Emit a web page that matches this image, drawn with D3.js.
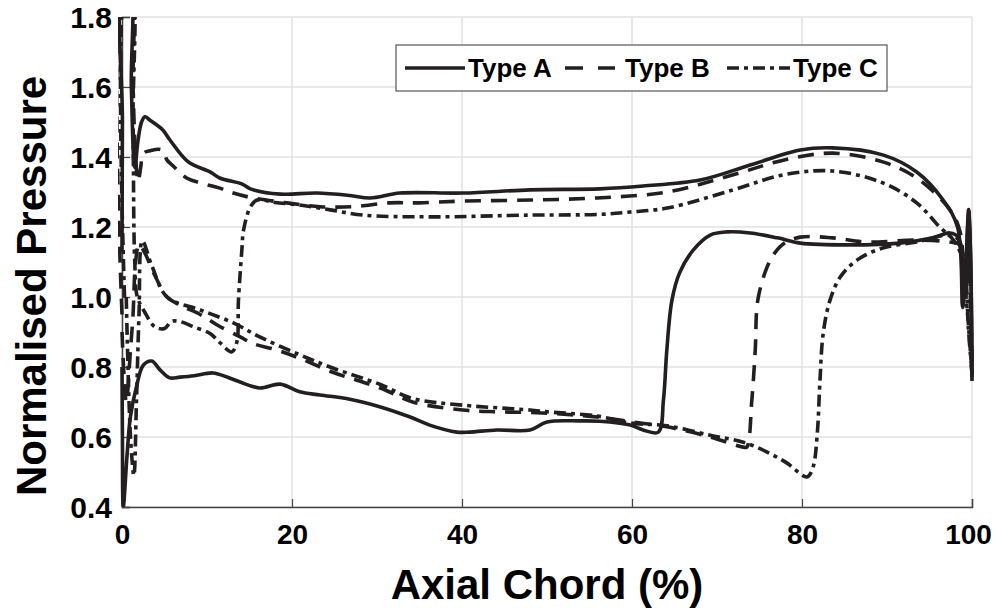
<!DOCTYPE html>
<html>
<head>
<meta charset="utf-8">
<script src="https://cdn.jsdelivr.net/npm/d3@7"></script>
<style>
  html, body { margin: 0; padding: 0; background: #fff; }
  svg { display: block; font-family: Arial, "Liberation Sans", sans-serif; }
</style>
</head>
<body>
<svg id="chart" width="995" height="608"></svg>
<script>
// ---------- data (x = axial chord %, y = normalised pressure) ----------
const xTicks = [0, 20, 40, 60, 80, 100];
const yTicks = [0.4, 0.6, 0.8, 1.0, 1.2, 1.4, 1.6, 1.8];
const seriesNames = ["Type A", "Type B", "Type C"];

const typeAUpper = [[0,1.13],[0.05,1.5],[0.12,1.9],[0.9,1.9],[1.1,1.6],[1.5,1.37],[1.9,1.45],[2.3,1.5],[2.7,1.515],[3.3,1.505],[4.8,1.477],[5.6,1.45],[7.8,1.386],[10.4,1.357],[11.5,1.34],[14.2,1.322],[15.1,1.309],[18.6,1.294],[22.9,1.297],[26.8,1.29],[29.2,1.283],[32.7,1.297],[40.1,1.297],[48,1.306],[56.2,1.309],[61.3,1.317],[68,1.334],[73.9,1.377],[79.8,1.42],[83.6,1.426],[89.5,1.406],[93.5,1.357],[96.6,1.277],[98.3,1.2],[98.9,0.97],[99.3,1.1],[99.6,1.25],[99.85,1.1],[100,0.76]];
const typeALower = [[0,0.8],[0.05,0.6],[0.15,0.4],[0.6,0.55],[1.0,0.66],[1.7,0.743],[2.5,0.805],[3.5,0.817],[4.5,0.791],[5.6,0.769],[6.8,0.771],[8.5,0.775],[10.7,0.783],[12.5,0.77],[13.9,0.757],[16.2,0.74],[18.6,0.751],[20.9,0.729],[23.3,0.72],[26.8,0.708],[30.4,0.686],[33.9,0.657],[36.2,0.634],[39.4,0.614],[40.9,0.614],[44.1,0.62],[48,0.62],[50,0.643],[53.9,0.646],[56.2,0.645],[59.8,0.634],[61.3,0.62],[63.1,0.614],[63.7,0.706],[64.1,0.849],[64.7,0.991],[65.6,1.069],[67.2,1.134],[69.2,1.177],[71.2,1.186],[73.9,1.183],[77.1,1.169],[79.8,1.154],[85.6,1.149],[91.5,1.154],[95.4,1.169],[97.4,1.183],[98.4,1.17],[99.1,1.0],[99.5,1.2],[99.7,1.25],[100,0.77]];

const typeBUpper = [[0,0.95],[0.15,1.9],[1.0,1.9],[1.3,1.6],[1.6,1.4],[1.9,1.33],[2.2,1.37],[2.5,1.41],[3.3,1.418],[4.7,1.42],[5.3,1.391],[5.9,1.377],[7.6,1.34],[9.2,1.326],[11.5,1.311],[13.1,1.297],[15.4,1.283],[19.4,1.269],[23.3,1.258],[27.2,1.258],[31.5,1.269],[35,1.269],[40,1.274],[48,1.277],[55.9,1.283],[64.1,1.3],[71.9,1.349],[77.8,1.391],[83.6,1.411],[89.5,1.386],[93.5,1.34],[97.4,1.249],[98.6,1.186],[99.2,1.0],[99.6,1.15],[100,0.78]];
const typeBLower = [[0,0.9],[0.5,0.7],[1.0,0.85],[1.3,0.95],[1.6,1.1],[2.0,1.15],[2.6,1.13],[3.9,1.06],[5.3,1.0],[7,0.975],[9.2,0.95],[11.2,0.92],[13.9,0.886],[15.4,0.867],[18,0.85],[20.9,0.825],[24.8,0.785],[30.4,0.74],[34.2,0.7],[40.1,0.677],[44,0.672],[48,0.67],[52,0.665],[55.9,0.657],[60.1,0.643],[64.1,0.629],[69.2,0.6],[73.1,0.571],[73.5,0.571],[74.1,0.706],[74.5,0.849],[74.8,0.991],[75.9,1.086],[76.8,1.126],[78,1.155],[79.8,1.171],[83.6,1.169],[87.6,1.157],[93.5,1.163],[97.4,1.157],[98.5,1.15],[99.2,1.0],[99.6,1.1],[100,0.78]];

const typeCUpper = [[0.3,1.0],[0.5,1.9],[1.1,1.9],[1.3,1.5],[1.5,1.1],[1.8,1.0],[2.6,0.96],[3.9,0.914],[5.0,0.91],[5.8,0.93],[6.8,0.93],[8.4,0.915],[10.4,0.895],[11.5,0.87],[12.9,0.843],[13.5,0.87],[13.7,0.99],[14.1,1.134],[14.3,1.191],[15.1,1.257],[15.9,1.277],[18,1.27],[20.9,1.263],[24.5,1.249],[28.4,1.234],[36.2,1.229],[48,1.234],[56.2,1.236],[59.8,1.243],[64.1,1.254],[71.9,1.306],[77.8,1.349],[83.6,1.36],[89.5,1.326],[93.5,1.269],[96.2,1.2],[97.8,1.163],[99.0,1.1],[99.6,0.9],[100,0.78]];
const typeCLower = [[0.5,1.0],[1.0,0.6],[1.4,0.49],[1.7,0.7],[2.0,0.95],[2.4,1.16],[3.5,1.09],[5.3,1.0],[9.2,0.963],[13.1,0.926],[16.2,0.886],[20.9,0.835],[24.8,0.797],[30.4,0.75],[34.2,0.71],[40.1,0.691],[48,0.677],[50,0.672],[55.9,0.66],[59.8,0.64],[64.1,0.632],[69.2,0.605],[73.1,0.585],[75.9,0.557],[78.2,0.526],[80.6,0.486],[81.3,0.514],[81.8,0.611],[82.1,0.754],[82.5,0.897],[83.3,0.991],[84.5,1.057],[86.5,1.106],[89.5,1.14],[93.5,1.157],[97.4,1.177],[98.5,1.16],[99.3,1.0],[100,0.78]];

// ---------- setup ----------
const svg = d3.select("#chart");
const margin = {left: 122, right: 23, top: 17, bottom: 101};
const W = 995, H = 608;
const x = d3.scaleLinear().domain([0, 100]).range([margin.left, W - margin.right]);
const y = d3.scaleLinear().domain([0.4, 1.8]).range([H - margin.bottom, margin.top]);

const ink = "#231f20";
const styles = {
  "Type A": null,
  "Type B": "16,10",
  "Type C": "12,5,4,5"
};

// gridlines
const grid = svg.append("g");
grid.selectAll("line.v").data(xTicks).enter().append("line")
  .attr("x1", d => x(d)).attr("x2", d => x(d))
  .attr("y1", y(1.8)).attr("y2", y(0.4))
  .attr("stroke", "#e2e2e2").attr("stroke-width", 1.5);
grid.selectAll("line.h").data(yTicks).enter().append("line")
  .attr("x1", x(0)).attr("x2", x(100))
  .attr("y1", d => y(d)).attr("y2", d => y(d))
  .attr("stroke", "#e2e2e2").attr("stroke-width", 1.5);

// axes
const xAxis = d3.axisBottom(x).tickValues(xTicks).tickSize(-8).tickPadding(16).tickFormat(d3.format("d"));
const yAxis = d3.axisLeft(y).tickValues(yTicks).tickSize(-8).tickPadding(10).tickFormat(d3.format(".1f"));

const gx = svg.append("g").attr("transform", `translate(0,${y(0.4)})`).call(xAxis);
const gy = svg.append("g").attr("transform", `translate(${x(0)},0)`).call(yAxis);
[gx, gy].forEach(g => {
  g.select(".domain").attr("stroke", "#444").attr("stroke-width", 1.5);
  g.selectAll(".tick line").attr("stroke", "#444").attr("stroke-width", 1.2);
  g.selectAll(".tick text").attr("fill", "#000").attr("font-weight", "bold")
    .attr("font-family", "Arial, 'Liberation Sans', sans-serif");
});
gx.selectAll(".tick text").attr("font-size", 28).attr("dy", "0.75em")
  .attr("dx", d => d === 100 ? -4 : 0);
gy.selectAll(".tick text").attr("font-size", 30).attr("dy", "0.36em");

// clip
svg.append("clipPath").attr("id", "plotclip").append("rect")
  .attr("x", x(0) - 4).attr("y", y(1.8)).attr("width", x(100) - x(0) + 8).attr("height", y(0.4) - y(1.8));

const line = d3.line().x(d => x(d[0])).y(d => y(d[1])).curve(d3.curveCatmullRom.alpha(0.5));
const plotG = svg.append("g").attr("clip-path", "url(#plotclip)");
const curves = [
  {name: "Type A", data: typeAUpper}, {name: "Type A", data: typeALower},
  {name: "Type B", data: typeBUpper}, {name: "Type B", data: typeBLower},
  {name: "Type C", data: typeCUpper}, {name: "Type C", data: typeCLower}
];
plotG.selectAll("path.curve").data(curves).enter().append("path")
  .attr("class", "curve")
  .attr("d", d => line(d.data))
  .attr("fill", "none").attr("stroke", ink).attr("stroke-width", 3.6)
  .attr("stroke-linejoin", "round")
  .attr("stroke-dasharray", d => styles[d.name]);

// legend
const lg = svg.append("g");
lg.append("rect").attr("x", 396).attr("y", 45).attr("width", 491).attr("height", 46)
  .attr("fill", "#fff").attr("stroke", "#555").attr("stroke-width", 1.2);
const legendItems = [
  {name: seriesNames[0], lx1: 405, lx2: 465, tx: 468, dash: null},
  {name: seriesNames[1], lx1: 565, lx2: 615, tx: 625, dash: "18,15"},
  {name: seriesNames[2], lx1: 727, lx2: 790, tx: 793, dash: "12,5,4,5"}
];
legendItems.forEach(it => {
  lg.append("line").attr("x1", it.lx1).attr("x2", it.lx2).attr("y1", 68).attr("y2", 68)
    .attr("stroke", ink).attr("stroke-width", 3.6).attr("stroke-dasharray", it.dash);
  lg.append("text").attr("x", it.tx).attr("y", 68).attr("dy", "0.36em")
    .attr("font-size", 26).attr("font-weight", "bold").attr("fill", "#000").text(it.name);
});

// axis titles
svg.append("text").attr("x", 547).attr("y", 599).attr("text-anchor", "middle")
  .attr("font-size", 42).attr("font-weight", "bold").attr("fill", "#000").text("Axial Chord (%)");
svg.append("text").attr("transform", "translate(46,286) rotate(-90)").attr("text-anchor", "middle")
  .attr("font-size", 42).attr("font-weight", "bold").attr("fill", "#000").text("Normalised Pressure");
</script>
</body>
</html>
